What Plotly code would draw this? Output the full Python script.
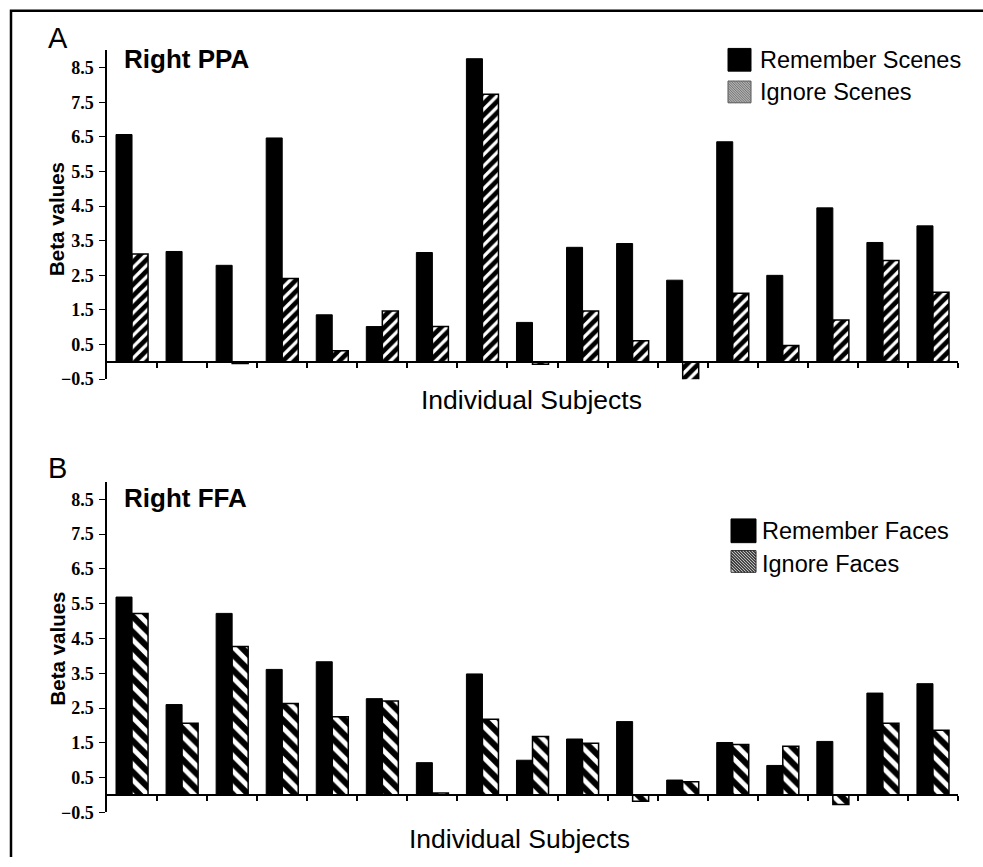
import plotly.graph_objects as go

# ---------------- data ----------------
subjects = [1, 2, 3, 4, 5, 6, 7, 8, 9, 10, 11, 12, 13, 14, 15, 16, 17]
ppa_remember = [6.57, 3.19, 2.79, 6.47, 1.36, 1.02, 3.16, 8.76, 1.14, 3.31, 3.42, 2.36, 6.36, 2.50, 4.45, 3.45, 3.93]
ppa_ignore = [3.12, 0.0, -0.05, 2.41, 0.32, 1.47, 1.02, 7.73, -0.07, 1.47, 0.61, -0.58, 1.98, 0.47, 1.21, 2.93, 2.01]
ffa_remember = [5.69, 2.60, 5.22, 3.61, 3.83, 2.77, 0.93, 3.48, 1.00, 1.61, 2.11, 0.43, 1.51, 0.85, 1.54, 2.93, 3.20]
ffa_ignore = [5.22, 2.06, 4.27, 2.63, 2.25, 2.70, 0.06, 2.18, 1.68, 1.49, -0.18, 0.38, 1.45, 1.40, -0.27, 2.06, 1.86]
y_ticks = [-0.5, 0.5, 1.5, 2.5, 3.5, 4.5, 5.5, 6.5, 7.5, 8.5]
y_ticktext = ["\u22120.5", "0.5", "1.5", "2.5", "3.5", "4.5", "5.5", "6.5", "7.5", "8.5"]
x_boundaries = [1.5, 2.5, 3.5, 4.5, 5.5, 6.5, 7.5, 8.5, 9.5, 10.5, 11.5, 12.5, 13.5, 14.5, 15.5, 16.5, 17.5]
y_range = [-0.5, 9.0]

W, H = 983, 867
SANS = "Liberation Sans, Arial, sans-serif"
SERIF = "Liberation Serif, Times New Roman, serif"

def px(x):
    return x / W

def py(y):
    return 1 - y / H

x_dom = [px(107), px(958)]
yA_dom = [py(383.6), py(51)]
yB_dom = [py(821.9), py(487.5)]

def zero_pos(dom):
    return dom[0] + (0 - y_range[0]) / (y_range[1] - y_range[0]) * (dom[1] - dom[0])

fig = go.Figure()

fig.add_trace(go.Bar(x=subjects, y=ppa_remember, name="Remember Scenes",
                     marker=dict(color="black", line=dict(color="black", width=1)),
                     xaxis="x", yaxis="y", showlegend=False))
fig.add_trace(go.Bar(x=subjects, y=ppa_ignore, name="Ignore Scenes",
                     marker=dict(color="white", line=dict(color="black", width=1.5),
                                 pattern=dict(shape="/", fgcolor="black", bgcolor="white",
                                              fgopacity=1, size=8, solidity=0.6)),
                     xaxis="x", yaxis="y", showlegend=False))
fig.add_trace(go.Bar(x=subjects, y=ffa_remember, name="Remember Faces",
                     marker=dict(color="black", line=dict(color="black", width=1)),
                     xaxis="x2", yaxis="y2", showlegend=False))
fig.add_trace(go.Bar(x=subjects, y=ffa_ignore, name="Ignore Faces",
                     marker=dict(color="white", line=dict(color="black", width=1.5),
                                 pattern=dict(shape="\\", fgcolor="black", bgcolor="white",
                                              fgopacity=1, size=11, solidity=0.55)),
                     xaxis="x2", yaxis="y2", showlegend=False))

xaxis_common = dict(range=[0.5, 17.5], domain=x_dom, showline=True, linecolor="black",
                    linewidth=1.5, ticks="outside", ticklen=5, tickwidth=1.5,
                    tickcolor="black", tickvals=x_boundaries, showticklabels=False,
                    showgrid=False, zeroline=False, anchor="free")
yaxis_common = dict(range=y_range, showline=True, linecolor="black", linewidth=1.5,
                    ticks="outside", ticklen=6, tickwidth=1.2, tickcolor="black",
                    tickvals=y_ticks, ticktext=y_ticktext, showgrid=False, zeroline=False,
                    tickfont=dict(family=SERIF, size=18, color="black", weight="bold"),
                    ticklabelstandoff=2)

fig.update_layout(
    width=W, height=H,
    margin=dict(l=0, r=0, t=0, b=0),
    paper_bgcolor="white", plot_bgcolor="white",
    barmode="group", bargap=0.36, bargroupgap=0,
    xaxis=dict(xaxis_common, position=zero_pos(yA_dom)),
    yaxis=dict(yaxis_common, domain=yA_dom, anchor="x"),
    xaxis2=dict(xaxis_common, position=zero_pos(yB_dom)),
    yaxis2=dict(yaxis_common, domain=yB_dom, anchor="x2"),
    showlegend=False,
)

shapes = []
# outer frame (left and top edges)
shapes.append(dict(type="path", xref="paper", yref="paper",
                   path=f"M {px(11)} {py(867)} L {px(11)} {py(11)} L {px(983)} {py(11)}",
                   line=dict(color="black", width=2.5)))
# legend swatches
def swatch(x0, y0, x1, y1, fill, line):
    return dict(type="rect", xref="paper", yref="paper", x0=px(x0), x1=px(x1),
                y0=py(y1), y1=py(y0), fillcolor=fill, line=dict(color=line, width=1))

def hatch(x0, y0, x1, y1, step, color, width, back=False):
    segs = []
    n = int((x1 - x0 + y1 - y0) / step)
    for k in range(1, n):
        d = k * step
        ax, ay = x0 + max(0, d - (y1 - y0)), y0 + min(d, y1 - y0)
        bx, by = x0 + min(d, x1 - x0), y0 + max(0, d - (x1 - x0))
        if back:
            ax, bx = x1 - (ax - x0), x1 - (bx - x0)
        segs.append(f"M {px(ax)} {py(ay)} L {px(bx)} {py(by)}")
    return dict(type="path", xref="paper", yref="paper", path=" ".join(segs),
                line=dict(color=color, width=width))

shapes.append(swatch(728, 49, 751, 72, "black", "black"))
shapes.append(swatch(728, 82, 751, 104, "#b0b0b0", "#555555"))
shapes.append(hatch(728, 82, 751, 104, 2.5, "#666666", 0.8, back=True))
shapes.append(swatch(731, 525, 756, 549, "black", "black"))
shapes.append(swatch(731, 557, 756, 579, "#d0d0d0", "#333333"))
shapes.append(hatch(731, 557, 756, 579, 3, "#222222", 1.2, back=True))
fig.update_layout(shapes=shapes)

annotations = []
def text(x, y, s, size, bold=False, xanchor="left", angle=0):
    annotations.append(dict(x=px(x), y=py(y), xref="paper", yref="paper", text=s,
                            showarrow=False, xanchor=xanchor, yanchor="middle",
                            textangle=angle,
                            font=dict(family=SANS, size=size, color="black",
                                      weight="bold" if bold else "normal")))

text(46, 38.5, "A", 29)
text(122, 60, "Right PPA", 26, bold=True)
text(57, 221.5, "Beta values", 20.5, bold=True, xanchor="center", angle=-90)
text(531, 405, "Individual Subjects", 26.5, xanchor="center")
text(758, 61, "Remember Scenes", 23.5)
text(758, 93.5, "Ignore Scenes", 23.5)

text(46, 473, "B", 29)
text(122, 504, "Right FFA", 26, bold=True)
text(57, 656, "Beta values", 20.5, bold=True, xanchor="center", angle=-90)
text(519, 849, "Individual Subjects", 26.5, xanchor="center")
text(760, 537.5, "Remember Faces", 23.5)
text(760, 571, "Ignore Faces", 23.5)
fig.update_layout(annotations=annotations)

fig.write_html("out.html", config={"displayModeBar": False},
               post_script="document.body.style.margin='0';")
